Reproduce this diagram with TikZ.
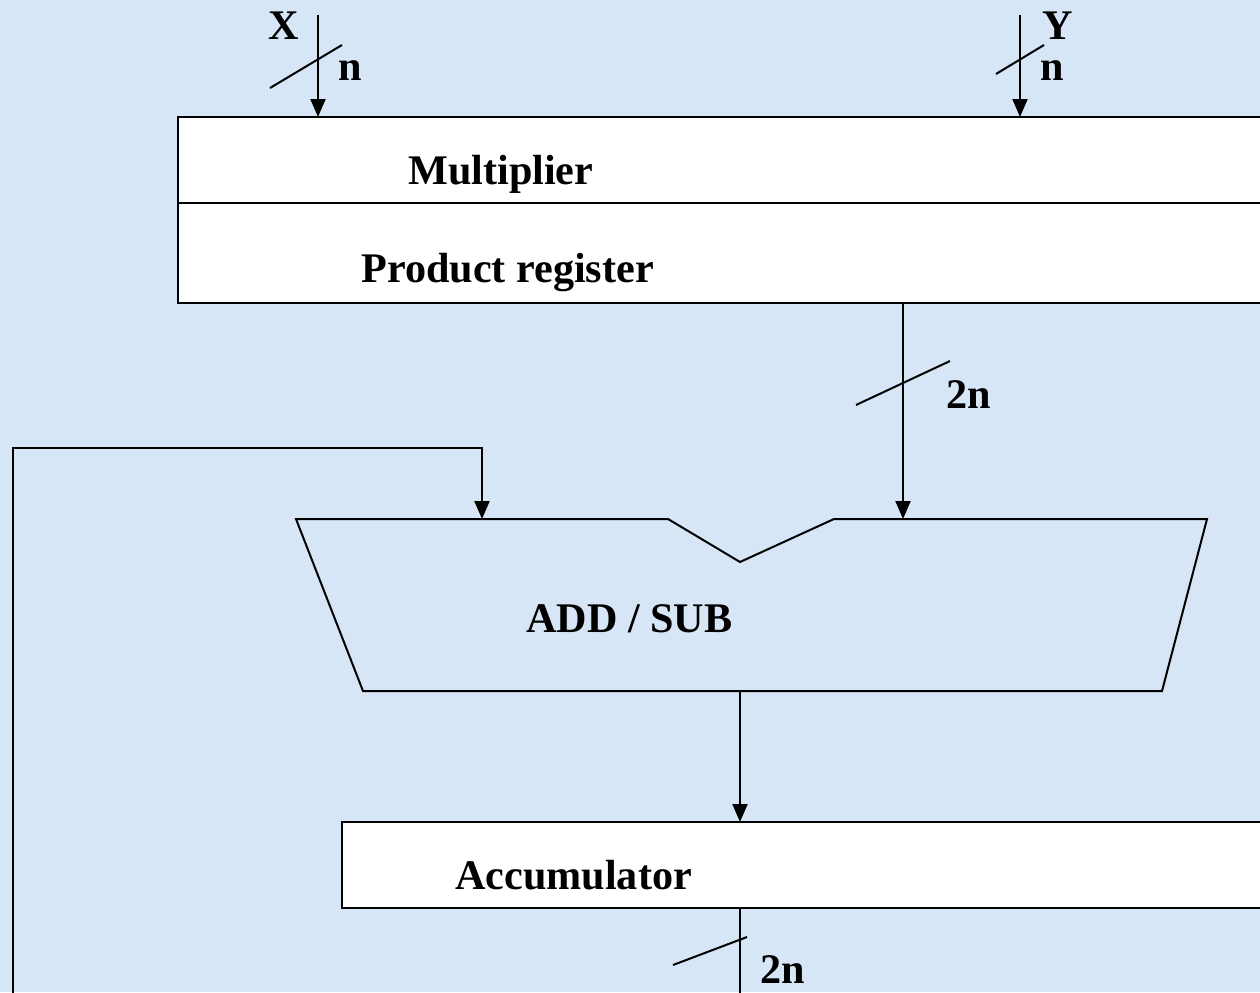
\documentclass[tikz,border=0pt]{standalone}
\usepackage{fontspec}
\setmainfont{Liberation Serif}
\usetikzlibrary{positioning, arrows.meta}
\definecolor{paper}{RGB}{214,230,246}
\tikzset{
  wire/.style={line width=0.04cm},
  sig/.style={wire, -{Triangle[length=0.36cm,width=0.3cm]}},
  regbox/.style={draw, line width=0.04cm, fill=white, rectangle, anchor=north west, inner sep=0pt, outer sep=0pt},
  lbl/.style={font=\fontsize{24}{28}\selectfont\bfseries, inner sep=0pt, anchor=base west},
}
\begin{document}
\begin{tikzpicture}[x=0.02cm, y=0.02cm]
\useasboundingbox (0,0) rectangle (1260,992);
\clip (0,0) rectangle (1260,992);
\fill[paper] (0,0) rectangle (1260,992);
% registers
\node[regbox, minimum width=22.8cm, minimum height=1.72cm] (mult) at (178,875) {};
\node[regbox, minimum width=22.8cm, minimum height=2cm] (prod) at (mult.south west) {};
\node[regbox, minimum width=19.5cm, minimum height=1.72cm] (acc) at (342,170) {};
\node[lbl] (multtxt) at (408,807) {Multiplier};
\node[lbl] (prodtxt) at (361,709) {Product register};
\node[lbl] (acctxt) at (455,103) {Accumulator};
% inputs
\coordinate (xin) at (318,977);
\coordinate (yin) at (1020,977);
\draw[sig] (xin) -- (xin |- mult.north);
\draw[sig] (yin) -- (yin |- mult.north);
\draw[wire] (270,904) -- (342,947);
\draw[wire] (996,918) -- (1044,947);
\node[lbl] (xlbl) at (268,952) {X};
\node[lbl] (xn) at (338,911) {n};
\node[lbl] (ylbl) at (1042,952) {Y};
\node[lbl] (yn) at (1040,911) {n};
% add / sub
\coordinate (alu-tl) at (296,473);
\coordinate (alu-a) at (668,473);
\coordinate (alu-v) at (740,430);
\coordinate (alu-b) at (834,473);
\coordinate (alu-tr) at (1207,473);
\coordinate (alu-br) at (1162,301);
\coordinate (alu-bl) at (363,301);
\draw[wire, line join=miter] (alu-tl) -- (alu-a) -- (alu-v) -- (alu-b) -- (alu-tr)
      -- (alu-br) -- (alu-bl) -- cycle;
\node[lbl] (alutxt) at (526,360) {ADD / SUB};
% product into adder
\coordinate (addb) at (903,473);
\draw[sig] (prod.south -| addb) -- (addb);
\draw[wire] (856,587) -- (950,631);
\node[lbl] (pn) at (946,584) {2n};
% feedback
\coordinate (fbin) at (482,473);
\coordinate (fb-low) at (13,-10);
\coordinate (fb-top) at (13,544);
\draw[sig] (fb-low) -- (fb-top) -| (fbin);
% adder to accumulator
\coordinate (aluout) at (740,301);
\coordinate (accout) at (740,-10);
\draw[sig] (aluout) -- (aluout |- acc.north);
\draw[wire] (acc.south -| aluout) -- (accout);
\draw[wire] (673,27) -- (747,55);
\node[lbl] (an) at (760,9) {2n};
\end{tikzpicture}
\end{document}
